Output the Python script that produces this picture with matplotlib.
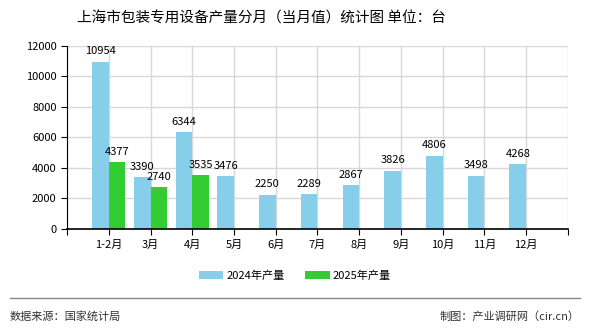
import matplotlib.pyplot as plt
import numpy as np

plt.rcParams['font.family'] = ['Noto Sans CJK SC', 'DejaVu Sans']

months = ['1-2月', '3月', '4月', '5月', '6月', '7月', '8月', '9月', '10月', '11月', '12月']
prod_2024 = [10954, 3390, 6344, 3476, 2250, 2289, 2867, 3826, 4806, 3498, 4268]
prod_2025 = [4377, 2740, 3535]

fig = plt.figure(figsize=(5.9, 3.3), dpi=100)
ax = fig.add_axes([0.1136, 0.306, 0.849, 0.555])

x = np.arange(1, len(months) + 1)
w = 0.4
ax.bar(x - w / 2, prod_2024, width=w, color='#87CEEB', label='2024年产量', zorder=2)
ax.bar(x[:len(prod_2025)] + w / 2, prod_2025, width=w, color='#33CC33', label='2025年产量', zorder=2)

for xi, v in zip(x, prod_2024):
    ax.text(xi - w / 2, v + 350, str(v), ha='center', va='bottom', fontsize=8)
for xi, v in zip(x, prod_2025):
    ax.text(xi + w / 2, v + 350, str(v), ha='center', va='bottom', fontsize=8)

ax.set_xlim(0, 12)
ax.set_ylim(0, 12000)
ax.set_yticks(range(0, 12001, 2000))
ax.set_xticks(range(0, 13))
ax.set_xticklabels([''] + months + [''], fontsize=8)
ax.tick_params(axis='y', labelsize=8, length=4, direction='out')
ax.tick_params(axis='x', length=4, direction='out')
ax.grid(True, color='#d8d8d8', linewidth=1, zorder=0)
for s in ['top', 'right']:
    ax.spines[s].set_visible(False)
ax.spines['bottom'].set_linewidth(1.2)

fig.text(0.443, 0.945, '上海市包装专用设备产量分月（当月值）统计图 单位：台',
         ha='center', va='center', fontsize=10.5)

ax.legend(loc='center', bbox_to_anchor=(0.5, 0.165), bbox_transform=fig.transFigure,
          ncol=2, frameon=False, fontsize=8, handlelength=2.2, handleheight=0.8,
          columnspacing=1.8, handletextpad=0.3)

fig.add_artist(plt.Line2D([0.017, 0.983], [0.097, 0.097], color='#888888', linewidth=1))
fig.text(0.017, 0.042, '数据来源：国家统计局', ha='left', va='center', fontsize=8, color='#333333')
fig.text(0.983, 0.042, '制图：产业调研网（cir.cn）', ha='right', va='center', fontsize=8, color='#333333')

fig.savefig('out.png', dpi=100)
